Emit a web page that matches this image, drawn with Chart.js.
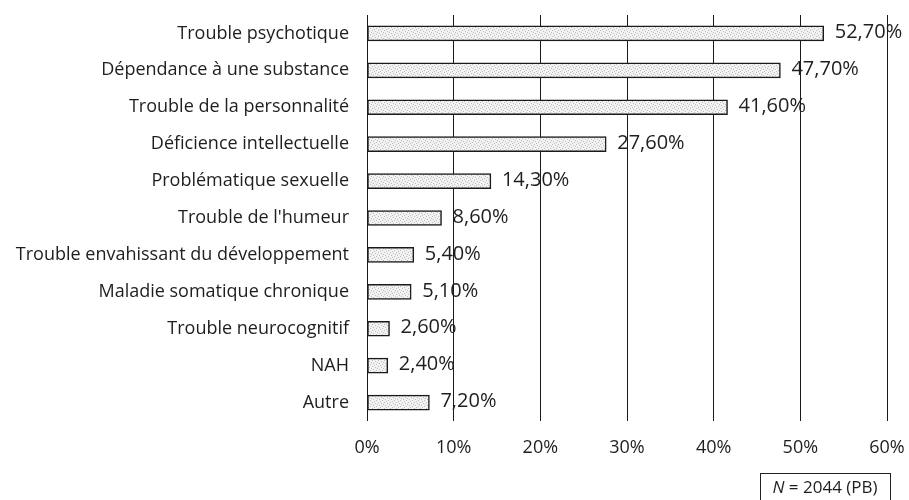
<!DOCTYPE html>
<html>
<head>
<meta charset="utf-8">
<script src="https://cdn.jsdelivr.net/npm/chart.js@4/dist/chart.umd.min.js"></script>
<style>
  html, body { margin: 0; padding: 0; background: #fff; }
  #wrap { position: relative; width: 909px; height: 500px; }
</style>
</head>
<body>
<div id="wrap"><canvas id="c" width="909" height="500"></canvas></div>
<script>
  // categories, top to bottom
  var CATEGORIES = [
    "Trouble psychotique",
    "Dépendance à une substance",
    "Trouble de la personnalité",
    "Déficience intellectuelle",
    "Problématique sexuelle",
    "Trouble de l'humeur",
    "Trouble envahissant du développement",
    "Maladie somatique chronique",
    "Trouble neurocognitif",
    "NAH",
    "Autre"
  ];
  var VALUES = [52.7, 47.7, 41.6, 27.6, 14.3, 8.6, 5.4, 5.1, 2.6, 2.4, 7.2];
  var X_TICKS = [0, 10, 20, 30, 40, 50, 60];
  var NOTE = "(PB)";
  var N_VALUE = "2044";

  var FONT = "'Open Sans', 'Noto Sans', sans-serif";
  var TXT = "#1e1e1e";

  /* stippled light-grey fill like the scanned bars */
  function stipple() {
    var c = document.createElement("canvas");
    c.width = 6; c.height = 6;
    var g = c.getContext("2d");
    g.fillStyle = "#f2f2f2";
    g.fillRect(0, 0, 6, 6);
    g.fillStyle = "#bdbdbd";
    [[0, 0], [3, 1], [1, 3], [4, 4], [2, 5], [5, 2]].forEach(function (p) { g.fillRect(p[0], p[1], 1, 1); });
    return g.createPattern(c, "repeat");
  }

  function pct(v) { return v.toFixed(2).replace(".", ",") + "%"; }

  var valueLabels = {
    id: "valueLabels",
    afterDatasetsDraw: function (chart) {
      var ctx = chart.ctx;
      var meta = chart.getDatasetMeta(0);
      ctx.save();
      ctx.font = "20px " + FONT;
      ctx.fillStyle = TXT;
      ctx.textBaseline = "middle";
      ctx.textAlign = "left";
      meta.data.forEach(function (bar, i) {
        ctx.fillText(pct(VALUES[i]), bar.x + 11, bar.y - 1);
      });
      ctx.restore();
    }
  };

  var noteBox = {
    id: "noteBox",
    afterDraw: function (chart) {
      var ctx = chart.ctx;
      var x1 = 760, y1 = 473, x2 = 890, y2 = 502;
      ctx.save();
      ctx.strokeStyle = "#222";
      ctx.lineWidth = 1;
      ctx.strokeRect(x1 + 0.5, y1 + 0.5, x2 - x1, y2 - y1);
      ctx.fillStyle = TXT;
      ctx.textBaseline = "middle";
      var fs = 17;
      ctx.font = "italic " + fs + "px " + FONT;
      var nW = ctx.measureText("N").width;
      ctx.font = fs + "px " + FONT;
      var rest = " = " + N_VALUE + " " + NOTE;
      var w = nW + ctx.measureText(rest).width;
      var sx = (x1 + x2) / 2 - w / 2;
      ctx.font = "italic " + fs + "px " + FONT;
      ctx.fillText("N", sx, 488);
      ctx.font = fs + "px " + FONT;
      ctx.fillText(rest, sx + nW, 488);
      ctx.restore();
    }
  };

  var ctx = document.getElementById("c").getContext("2d");
  new Chart(ctx, {
    type: "bar",
    data: {
      labels: CATEGORIES,
      datasets: [{
        data: VALUES,
        backgroundColor: stipple(),
        borderColor: "#1a1a1a",
        borderWidth: 1.5,
        borderSkipped: false,
        barThickness: 15
      }]
    },
    options: {
      indexAxis: "y",
      responsive: false,
      animation: false,
      layout: { padding: { left: 0, right: 22, top: 15, bottom: 0 } },
      plugins: { legend: { display: false }, tooltip: { enabled: false } },
      scales: {
        x: {
          min: 0, max: 60,
          afterBuildTicks: function (ax) { ax.ticks = X_TICKS.map(function (v) { return { value: v }; }); },
          afterFit: function (s) { s.height = 79; s.paddingLeft = 0; s.paddingRight = 0; },
          grid: { color: "#1a1a1a", lineWidth: 1, drawTicks: false },
          border: { display: false },
          ticks: {
            padding: 16, color: TXT, font: { family: FONT, size: 18 },
            callback: function (v) { return v + "%"; }
          }
        },
        y: {
          afterFit: function (s) { s.width = 367; s.paddingTop = 0; s.paddingBottom = 0; },
          grid: { display: false, drawTicks: false },
          border: { display: false },
          ticks: { padding: 18, color: TXT, font: { family: FONT, size: 18 } }
        }
      }
    },
    plugins: [valueLabels, noteBox]
  });
</script>
</body>
</html>
